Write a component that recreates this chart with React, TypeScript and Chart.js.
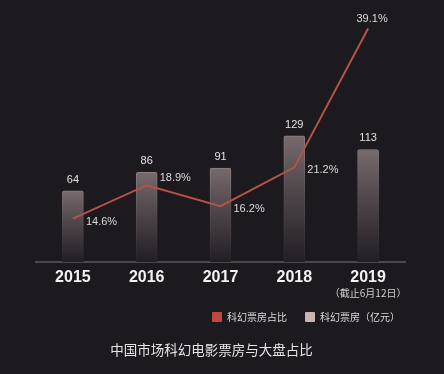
import React, { useEffect, useRef } from 'react';
import { Chart, registerables } from 'chart.js';

Chart.register(...registerables);

const years = ['2015', '2016', '2017', '2018', '2019'];
const boxOffice = [64, 86, 91, 129, 113];
const sharePct = [14.6, 18.9, 16.2, 21.2, 39.1];
const noteLabel = '（截止6月12日）';
const noteIndex = 4;
const lineLabel = '科幻票房占比';
const barLabel = '科幻票房（亿元）';
const titleText = '中国市场科幻电影票房与大盘占比';

const BG = '#1c191f';
const NUM_FONT = '"Liberation Sans", "Noto Sans CJK SC", sans-serif';
const CJK_FONT = '"Noto Sans CJK SC", "Noto Sans", sans-serif';

const labelPlugin = {
  id: 'valueLabels',
  afterDatasetsDraw(chart: any) {
    const c = chart.ctx as CanvasRenderingContext2D;
    c.save();
    c.textBaseline = 'middle';
    // bar value labels
    const barMeta = chart.getDatasetMeta(1);
    c.font = `11px ${NUM_FONT}`;
    c.fillStyle = '#e2e2e2';
    c.textAlign = 'center';
    barMeta.data.forEach((el: any, i: number) => {
      c.fillText(String(boxOffice[i]), el.x, el.y - 11);
    });
    // line percentage labels
    const lineMeta = chart.getDatasetMeta(0);
    const last = sharePct.length - 1;
    c.fillStyle = '#dadada';
    lineMeta.data.forEach((el: any, i: number) => {
      const txt = sharePct[i].toFixed(1) + '%';
      if (i === last) {
        c.textAlign = 'center';
        c.fillText(txt, el.x + 4, el.y - 10);
      } else {
        const prev = i > 0 ? sharePct[i - 1] : -Infinity;
        const next = sharePct[i + 1];
        const peak = sharePct[i] > prev && sharePct[i] > next;
        c.textAlign = 'left';
        c.fillText(txt, el.x + 13, el.y + (peak ? -7 : 3));
      }
    });
    // note under last category
    const xs = chart.scales.x;
    c.font = `10px ${CJK_FONT}`;
    c.fillStyle = '#cfcfcf';
    c.textAlign = 'center';
    c.fillText(noteLabel, xs.getPixelForValue(noteIndex), chart.chartArea.bottom + 31);
    c.restore();
  },
};

export default function App() {
  const ref = useRef<HTMLCanvasElement>(null);

  useEffect(() => {
    if (!ref.current) return;
    const chart = new Chart(ref.current, {
      type: 'bar',
      data: {
        labels: years,
        datasets: [
          {
            type: 'line',
            label: lineLabel,
            data: sharePct,
            yAxisID: 'y1',
            borderColor: '#b5524a',
            backgroundColor: '#b5524a',
            borderWidth: 2,
            pointRadius: 0,
            tension: 0,
            order: 0,
            clip: false,
          } as any,
          {
            type: 'bar',
            label: barLabel,
            data: boxOffice,
            yAxisID: 'y',
            base: -20,
            barThickness: 21,
            order: 1,
            borderSkipped: 'bottom',
            borderRadius: { topLeft: 2, topRight: 2, bottomLeft: 0, bottomRight: 0 },
            borderWidth: 1,
            backgroundColor: (ctx: any) => {
              const chart = ctx.chart;
              const area = chart.chartArea;
              if (!area || ctx.type !== 'data') return '#6f6466';
              const top = chart.scales.y.getPixelForValue(ctx.raw);
              const g = chart.ctx.createLinearGradient(0, top, 0, area.bottom);
              g.addColorStop(0, 'rgba(118,106,108,1)');
              g.addColorStop(0.5, 'rgba(74,66,71,1)');
              g.addColorStop(1, 'rgba(34,30,36,1)');
              return g;
            },
            borderColor: (ctx: any) => {
              const chart = ctx.chart;
              const area = chart.chartArea;
              if (!area || ctx.type !== 'data') return '#857a7b';
              const top = chart.scales.y.getPixelForValue(ctx.raw);
              const g = chart.ctx.createLinearGradient(0, top, 0, area.bottom);
              g.addColorStop(0, 'rgba(140,128,130,1)');
              g.addColorStop(0.5, 'rgba(84,76,80,1)');
              g.addColorStop(1, 'rgba(40,36,42,1)');
              return g;
            },
          } as any,
        ],
      },
      options: {
        responsive: false,
        animation: false,
        devicePixelRatio: 1,
        layout: { padding: { left: 36, right: 26, top: 20, bottom: 42 } },
        scales: {
          x: {
            type: 'category',
            offset: true,
            grid: { display: false, drawTicks: false },
            border: { display: true, color: '#4b494e', width: 2 },
            ticks: {
              color: '#f2f2f2',
              padding: 6,
              font: { family: NUM_FONT, size: 16, weight: 'bold' },
            },
            afterFit: (s: any) => {
              s.height = 32;
            },
          },
          y: {
            display: false,
            min: -20,
            max: 266,
          },
          y1: {
            position: 'right',
            display: true,
            min: 9,
            max: 40.2,
            grid: { display: false },
            border: { display: false },
            ticks: { display: false },
            afterFit: (s: any) => {
              s.width = 13;
            },
          },
        },
        plugins: {
          tooltip: { enabled: false },
          title: { display: false },
          legend: {
            display: true,
            position: 'bottom',
            align: 'end',
            labels: {
              boxWidth: 10,
              boxHeight: 10,
              padding: 18,
              color: '#dcdcdc',
              useBorderRadius: true,
              borderRadius: 1,
              font: { size: 10, family: CJK_FONT },
              generateLabels: () => [
                {
                  text: lineLabel,
                  fillStyle: '#c0493f',
                  strokeStyle: '#c0493f',
                  lineWidth: 0,
                  hidden: false,
                  datasetIndex: 0,
                  fontColor: '#dcdcdc',
                  borderRadius: 1,
                },
                {
                  text: barLabel,
                  fillStyle: '#c9b3b3',
                  strokeStyle: '#c9b3b3',
                  lineWidth: 0,
                  hidden: false,
                  datasetIndex: 1,
                  fontColor: '#dcdcdc',
                  borderRadius: 1,
                },
              ],
            },
          },
        },
      } as any,
      plugins: [labelPlugin],
    });
    return () => chart.destroy();
  }, []);

  return (
    <div
      style={{
        position: 'fixed',
        left: 0,
        top: 0,
        width: 444,
        height: 374,
        background: BG,
        overflow: 'hidden',
      }}
    >
      <canvas ref={ref} width={444} height={374} style={{ display: 'block', width: 444, height: 374 }} />
      <div
        style={{
          position: 'absolute',
          left: 0,
          top: 340,
          width: 423,
          textAlign: 'center',
          color: '#e6e6e6',
          fontFamily: CJK_FONT,
          fontSize: 13.5,
          lineHeight: '18px',
          whiteSpace: 'nowrap',
        }}
      >
        {titleText}
      </div>
    </div>
  );
}
